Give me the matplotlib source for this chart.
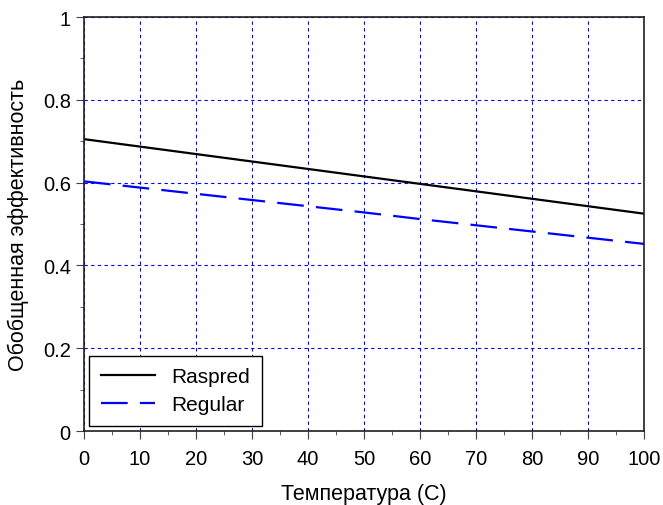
import matplotlib
matplotlib.use('Agg')
import matplotlib.pyplot as plt
import numpy as np

plt.rcParams['font.family'] = ['Liberation Sans', 'DejaVu Sans']

temp = [0, 10, 20, 30, 40, 50, 60, 70, 80, 90, 100]
raspred = [0.705, 0.687, 0.669, 0.651, 0.633, 0.615, 0.597, 0.579, 0.561, 0.543, 0.525]
regular = [0.603, 0.588, 0.573, 0.558, 0.543, 0.528, 0.512, 0.497, 0.482, 0.467, 0.452]

fig = plt.figure(figsize=(6.63, 5.06), dpi=100)
ax = fig.add_axes([0.1267, 0.1462, 0.8446, 0.8182])

ax.plot(temp, raspred, color='black', lw=1.6, label='Raspred')
ax.plot(temp, regular, color='blue', lw=1.6, dashes=(12, 5.5), label='Regular')

ax.set_xlim(0, 100)
ax.set_ylim(0, 1)
ax.set_xticks(np.arange(0, 101, 10))
ax.set_xticks(np.arange(0, 101, 5), minor=True)
ax.set_yticks([0, 0.2, 0.4, 0.6, 0.8, 1])
ax.set_yticklabels(['0', '0.2', '0.4', '0.6', '0.8', '1'])
ax.set_yticks(np.arange(0, 1.01, 0.1), minor=True)
ax.tick_params(which='both', direction='out', labelsize=14.5, color='#404040')
ax.tick_params(which='major', length=6)
ax.tick_params(which='minor', length=3)
ax.tick_params(axis='x', which='major', pad=7)
ax.grid(which='major', color='blue', linestyle=(0, (3, 3)), lw=0.8)

for s in ax.spines.values():
    s.set_linewidth(1.2)
    s.set_color('#202020')

ax.set_xlabel('Температура (С)', fontsize=15.5, labelpad=11)
ax.set_ylabel('Обобщенная эффективность', fontsize=15.5, labelpad=10)

leg = ax.legend(loc='lower left', fontsize=15, fancybox=False, edgecolor='black',
                framealpha=1, borderaxespad=0.25, handlelength=2.6,
                labelspacing=0.45, borderpad=0.55)
leg.get_frame().set_linewidth(1.0)

fig.savefig('out.png', dpi=100)
